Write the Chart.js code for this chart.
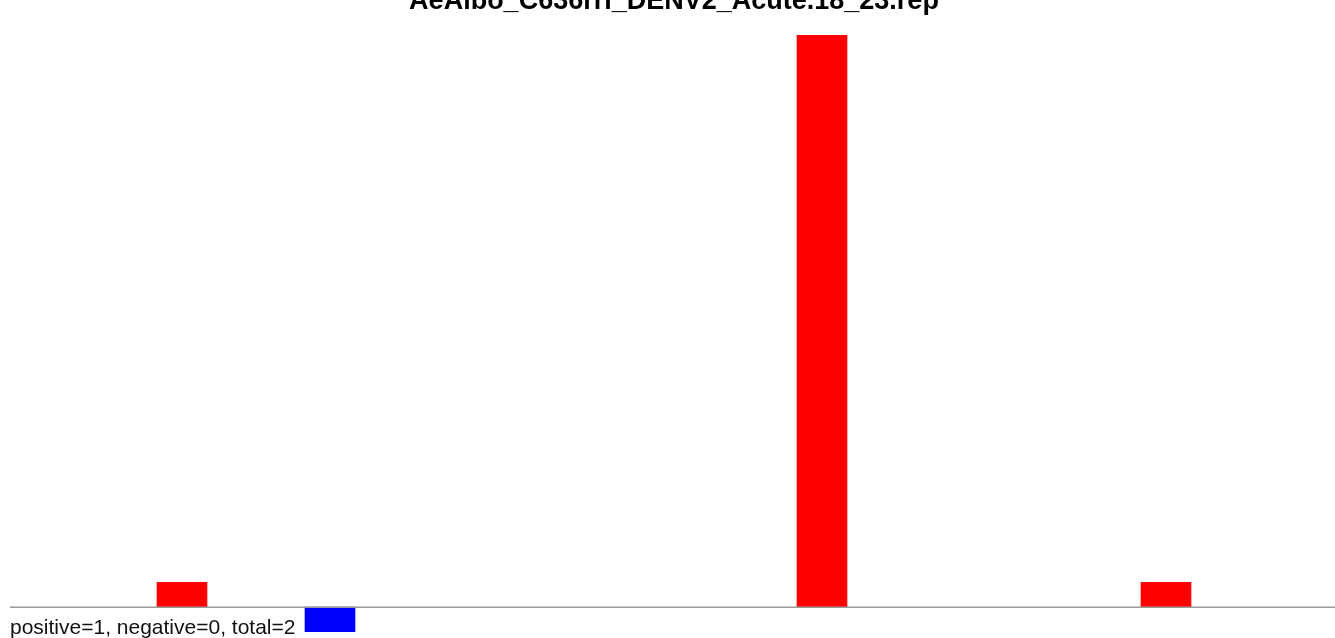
<!DOCTYPE html>
<html>
<head>
<meta charset="utf-8">
<script src="https://cdn.jsdelivr.net/npm/chart.js@4"></script>
<style>
  body { margin: 0; background: #fff; }
  #wrap { width: 1335px; height: 638px; }
</style>
</head>
<body>
<div id="wrap"><canvas id="chart1"></canvas></div>
<script>
const titleText = 'AeAlbo_C636rri_DENV2_Acute.18_23.rep';
const summaryText = 'positive=1, negative=0, total=2';

// bar positions along the x axis and their counts
const posPositions = [172, 812, 1156];
const posCounts = [1, 23, 1];
const negPositions = [320];
const negCounts = [-1];

const xRange = [0, 1325];
const yRange = [-1, 23];

const overlay = {
  id: 'overlay',
  afterDraw(chart) {
    const ctx = chart.ctx;
    const y0 = chart.scales.y.getPixelForValue(0);
    ctx.save();
    ctx.strokeStyle = '#999999';
    ctx.lineWidth = 1.5;
    ctx.beginPath();
    ctx.moveTo(chart.chartArea.left, y0);
    ctx.lineTo(chart.chartArea.right, y0);
    ctx.stroke();

    ctx.fillStyle = '#000';
    ctx.font = 'bold 27px "Liberation Sans", Arial, sans-serif';
    ctx.textAlign = 'center';
    ctx.textBaseline = 'alphabetic';
    ctx.fillText(titleText, 674, 9);

    ctx.font = '21px "Liberation Sans", Arial, sans-serif';
    ctx.textAlign = 'left';
    ctx.fillStyle = '#111';
    ctx.fillText(summaryText, 10, 634);
    ctx.restore();
  }
};

const chart1 = new Chart(document.getElementById('chart1'), {
  type: 'bar',
  data: {
    datasets: [{
      data: posPositions.map((p, i) => ({x: p, y: posCounts[i]})),
      backgroundColor: '#ff0000',
      barThickness: 50
    }, {
      data: negPositions.map((p, i) => ({x: p, y: negCounts[i]})),
      backgroundColor: '#0000ff',
      barThickness: 50
    }]
  },
  options: {
    responsive: true,
    maintainAspectRatio: false,
    animation: false,
    grouped: false,
    layout: { padding: { left: 10, top: 35, right: 0, bottom: 6 } },
    plugins: {
      legend: { display: false },
      tooltip: { enabled: false },
      title: { display: false }
    },
    scales: {
      x: { type: 'linear', min: xRange[0], max: xRange[1], display: false, offset: false },
      y: { min: yRange[0], max: yRange[1], display: false }
    }
  },
  plugins: [overlay]
});
</script>
</body>
</html>
